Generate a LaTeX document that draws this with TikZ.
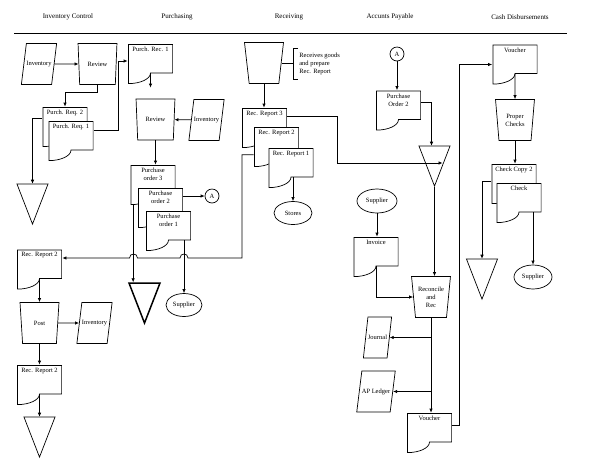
\documentclass[tikz,border=0pt]{standalone}
\usepackage{fontspec}
\setmainfont{Liberation Serif}
\usetikzlibrary{arrows.meta}
\usetikzlibrary{shapes.geometric}

\tikzset{
  every node/.style={font=\fontsize{6.5}{8}\selectfont},
  header/.style={font=\fontsize{7}{8}\selectfont},
  doc/.style={rectangle, minimum width=45pt, minimum height=40pt, inner sep=0pt,
    path picture={\filldraw[fill=white]
      ([shift={(0.4pt,-0.4pt)}]path picture bounding box.north west)
      -- ([shift={(-0.4pt,-0.4pt)}]path picture bounding box.north east)
      -- ([shift={(-0.4pt,11pt)}]path picture bounding box.south east)
      -- ([yshift=11pt]path picture bounding box.south)
      .. controls +(0,-6pt) and +(12pt,0) ..
      ([shift={(0.4pt,0.4pt)}]path picture bounding box.south west) -- cycle;},
    execute at begin node={\begin{minipage}[t][34pt][t]{44pt}\centering},
    execute at end node={\end{minipage}}},
  manop/.style={trapezium, trapezium left angle=99, trapezium right angle=99,
    trapezium stretches=true, minimum width=39pt, minimum height=41pt,
    draw, fill=white, align=center, inner sep=1pt},
  store/.style={trapezium, trapezium left angle=68, trapezium right angle=112,
    trapezium stretches=true, minimum height=41pt, draw, fill=white, inner xsep=0pt},
  tri/.style={isosceles triangle, shape border rotate=270, isosceles triangle stretches,
    minimum width=31pt, minimum height=40pt, draw, fill=white, inner sep=0pt, anchor=apex},
  term/.style={ellipse, draw, fill=white, minimum width=38pt, minimum height=23pt, inner sep=0pt},
  conn/.style={circle, draw, fill=white, minimum size=14pt, inner sep=0pt}
}

\begin{document}
\begin{tikzpicture}[x=1pt, y=-1pt, line width=0.7pt, >={Latex[length=4pt,width=3.5pt]}]
\useasboundingbox (0,0) rectangle (589,475);
\node[header] (hic) at (68,17) {Inventory Control};
\node[header] (hpur) at (177,17) {Purchasing};
\node[header] (hrec) at (289,17) {Receiving};
\node[header] (hap) at (390,17) {Accunts Payable};
\node[header] (hcd) at (520,17) {Cash Disbursements};
\draw (14,33) -- (567,33);

\node[store] (inv1) at (39,64) {Inventory};
\node[manop] (rev1) at (97.5,64) {Review};
\node[doc] (preq2) at (65,127) {Purch. Req. 2};
\node[doc] (preq1) at (71,141) {Purch. Req. 1};
\node[tri] (tri1) at (32.5,225) {};
\node[doc] (reca) at (39.5,269.5) {Rec. Report 2};
\node[manop] (post) at (39.5,323) {Post};
\node[store] (inv3) at (94.5,323) {Inventory};
\node[doc] (recb) at (39.5,385) {Rec. Report 2};
\node[tri] (tri5) at (39.5,458) {};

\node[doc] (prec1) at (150.5,64) {Purch. Rec. 1};
\node[manop] (rev2) at (155.5,119.5) {Review};
\node[store] (inv2) at (206.5,120) {Inventory};
\node[doc] (po3) at (153,185) {Purchase\\order 3};
\node[doc] (po2) at (160.5,208) {Purchase\\order 2};
\node[doc] (po1) at (168.5,231) {Purchase\\order 1};
\node[conn] (cona1) at (212,196) {A};
\node[tri, line width=1.5pt] (tri2) at (144.5,325) {};
\node[term, minimum width=36pt] (sup1) at (184,305) {Supplier};

\node[manop] (man1) at (264,63) {};
\node[align=left, inner xsep=6pt, inner ysep=4.5pt, anchor=west] (note) at (293,64) {Receives goods\\and prepare\\Rec. Report};
\node[doc] (rr3) at (264.5,128) {Rec. Report 3};
\node[doc] (rr2) at (276.5,147) {Rec. Report 2};
\node[doc] (rr1) at (291,168) {Rec. Report 1};
\node[term] (stores) at (293,213) {Stores};

\node[conn] (cona2) at (397,54) {A};
\node[doc] (po2b) at (398.5,110.5) {Purchase\\Order 2};
\node[tri] (tri3) at (434.5,187) {};
\node[term, minimum width=40pt, minimum height=24pt] (sup2) at (377,201) {Supplier};
\node[doc] (invc) at (376,257) {Invoice};
\node[manop] (recon) at (431,297) {Reconcile\\and\\Rec};
\node[store] (jour) at (377.5,337.5) {Journal};
\node[store] (apl) at (376,391.5) {AP Ledger};
\node[doc] (vouch1) at (429.5,433) {Voucher};

\node[doc] (vouch2) at (515,64.5) {Voucher};
\node[manop] (proper) at (515,120) {Proper\\Checks};
\node[doc] (ccopy2) at (514,184) {Check Copy 2};
\node[doc] (check) at (519,203) {Check};
\node[tri] (tri4) at (482,300) {};
\node[term, minimum height=24pt] (sup3) at (533,277) {Supplier};

\coordinate (rrturn) at (242,258);
\coordinate (rrbend) at (337,163);

\draw[->] (inv1) -- (rev1);
\draw[->] (rev1.south) -- ++(0,7) -| (preq2.north);
\draw[->] ([yshift=-10pt]preq1.north east) -- ++(24,0) |- ([yshift=3pt]prec1.west);
\draw[->] ([yshift=-12pt]preq2.north west) -| (tri1.lower side);
\draw[->] ([yshift=11pt]reca.south) -- (post.north);
\draw[->] (post) -- (inv3);
\draw[->] (post.south) -- (recb.north);
\draw[->] ([yshift=11pt]recb.south) -- (tri5.lower side);

\draw[->] ([yshift=11pt]prec1.south) -- ([yshift=11pt]prec1.south |- rev2.north);
\draw[->] (inv2) -- (rev2);
\draw[->] (rev2.south) -- (rev2.south |- po3.north);
\draw[->] (cona1 -| po2.east) -- (cona1);
\draw[->] ([xshift=3pt]po3.south west) -- ([xshift=3pt]po3.south west |- tri2.lower side);
\draw[->] ([yshift=11pt]po1.south -| sup1) -- (sup1);

\draw[->] (man1.south) -- (man1.south |- rr3.north);
\draw (man1.east) -- (man1.east -| note.west);
\draw ([xshift=5pt]note.north west) -- (note.north west) -- (note.south west) -- ([xshift=5pt]note.south west);
\draw[->] ([yshift=-9pt]rr3.north east) -| (rrbend) -- (rrbend -| tri3.left side);
\draw[->] ([yshift=11pt]rr1.south -| stores) -- (stores);
\draw[->] ([yshift=-28pt]rr2.north west) -| (rrturn) -- (188,258)
  .. controls (188,252.7) and (180,252.7) .. (180,258) -- (137.5,258)
  .. controls (137.5,252.7) and (129.5,252.7) .. (129.5,258) -- (reca.east |- rrturn);

\draw[->] (cona2) -- (cona2 |- po2b.north);
\draw[->] ([yshift=-12pt]po2b.north east) -| ([xshift=-3pt]tri3.lower side);
\draw[->] (tri3.apex) -- (tri3.apex |- recon.north);
\draw[->] (sup2) -- (sup2 |- invc.north);
\draw[->] ([yshift=11pt]invc.south) |- (recon.west);
\draw[->] (recon.south) -- (recon.south |- vouch1.north);
\draw[->] (recon.south |- jour.east) -- (jour.east);
\draw[->] (recon.south |- apl.east) -- (apl.east);
\draw[->] ([yshift=8pt]vouch1.east) -- ++(7,0) |- (vouch2.west);

\draw[->] ([yshift=11pt]vouch2.south) -- (proper.north);
\draw[->] (proper.south) -- (proper.south |- ccopy2.north);
\draw[->] ([yshift=-18pt]ccopy2.north west) -| (tri4.lower side);
\draw[->] ([yshift=11pt]check.south -| sup3) -- (sup3);
\end{tikzpicture}
\end{document}
